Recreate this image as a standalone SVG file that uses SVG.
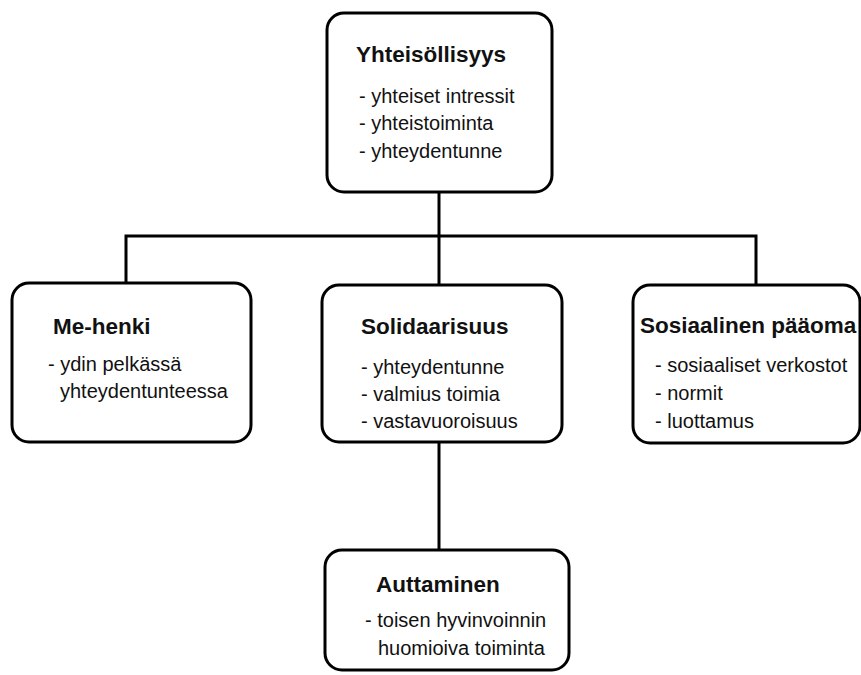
<svg xmlns="http://www.w3.org/2000/svg" width="861" height="675" viewBox="0 0 861 675">
<style>
.box{fill:#fff;stroke:#000;stroke-width:3}
.conn{fill:none;stroke:#000;stroke-width:3}
.t{font-family:"Liberation Sans",Arial,sans-serif;font-weight:bold;font-size:22.5px;fill:#111}
.b{font-family:"Liberation Sans",Arial,sans-serif;font-size:20px;fill:#111}
</style>
<rect width="861" height="675" fill="#fff"/>
<g id="connectors">
<line class="conn" x1="439" y1="192" x2="439" y2="285"/>
<polyline class="conn" points="126,283 126,236 756,236 756,285"/>
<line class="conn" x1="439" y1="442" x2="439" y2="550"/>
</g>
<g id="yhteisollisyys">
<rect class="box" x="327" y="13" width="225" height="179" rx="17"/>
<text class="t" x="356" y="62">Yhteisöllisyys</text>
<text class="b" x="359" y="103">- yhteiset intressit</text>
<text class="b" x="359" y="130">- yhteistoiminta</text>
<text class="b" x="359" y="158">- yhteydentunne</text>
</g>
<g id="me-henki">
<rect class="box" x="12" y="283" width="239" height="159" rx="17"/>
<text class="t" x="53" y="334">Me-henki</text>
<text class="b" x="48" y="371">- ydin pelkässä</text>
<text class="b" x="60" y="398">yhteydentunteessa</text>
</g>
<g id="solidaarisuus">
<rect class="box" x="322" y="285" width="240" height="157" rx="17"/>
<text class="t" x="361" y="334">Solidaarisuus</text>
<text class="b" x="361" y="374">- yhteydentunne</text>
<text class="b" x="361" y="401">- valmius toimia</text>
<text class="b" x="361" y="428">- vastavuoroisuus</text>
</g>
<g id="sosiaalinen">
<rect class="box" x="633" y="285" width="227" height="158" rx="17"/>
<text class="t" x="640" y="333">Sosiaalinen pääoma</text>
<text class="b" x="655" y="372">- sosiaaliset verkostot</text>
<text class="b" x="655" y="400">- normit</text>
<text class="b" x="655" y="428">- luottamus</text>
</g>
<g id="auttaminen">
<rect class="box" x="325" y="550" width="244" height="120" rx="17"/>
<text class="t" x="376" y="592">Auttaminen</text>
<text class="b" x="365" y="627">- toisen hyvinvoinnin</text>
<text class="b" x="378" y="655">huomioiva toiminta</text>
</g>
</svg>
